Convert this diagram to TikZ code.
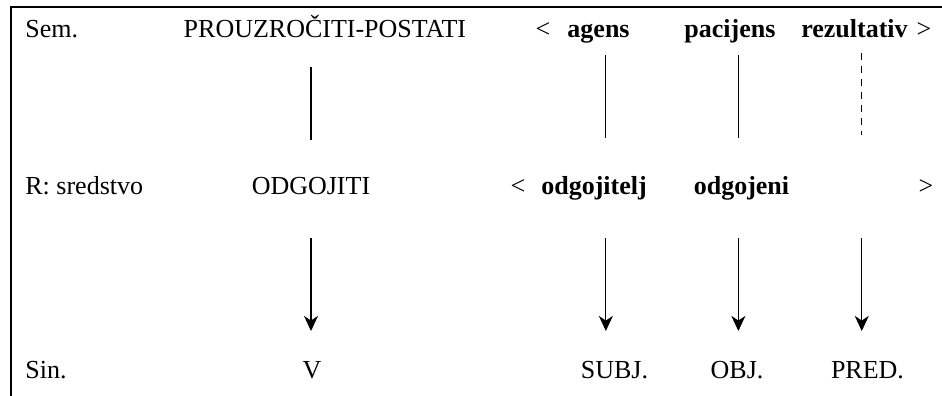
\documentclass[tikz,border=0pt]{standalone}
\usepackage{fontspec}
\setmainfont{Liberation Serif}
\usetikzlibrary{arrows.meta}

\begin{document}
\begin{tikzpicture}[>={Stealth[length=7pt,width=6.5pt,inset=2.2pt]},
  every node/.style={inner sep=0pt,anchor=base,font=\fontsize{12}{14}\selectfont},
  lbl/.style={anchor=base west},
  role/.style={font=\fontsize{12}{14}\selectfont\bfseries},
  link/.style={line width=0.5pt,shorten <=8.3pt,shorten >=25.8pt},
  map/.style={->,line width=0.5pt,shorten <=20.3pt,shorten >=21.7pt}]
\useasboundingbox (0,0) rectangle (15.284,6.425);
\draw[line width=1.1pt] (0.178,0) -- (0.178,6.311) -- (15.284,6.311);

\coordinate (c1) at (5.046,0);
\coordinate (c2) at (9.830,0);
\coordinate (c3) at (11.980,0);
\coordinate (c4) at (13.982,0);

\node[lbl] (sem) at (0.405,5.823) {Sem.};
\node (prouz) at (5.272,5.823) {PROUZROČITI-POSTATI};
\node (lt1) at (8.810,5.823) {<};
\node[role] (agens) at (9.711,5.823) {agens};
\node[role] (pacijens) at (11.844,5.823) {pacijens};
\node[role] (rezultativ) at (13.864,5.823) {rezultativ};
\node (gt1) at (14.992,5.823) {>};

\node[lbl] (r) at (0.405,3.276) {R: sredstvo};
\node (odgoj) at (5.046,3.276) {ODGOJITI};
\node (lt2) at (8.405,3.276) {<};
\node[role] (odgojitelj) at (9.638,3.276) {odgojitelj};
\node[role] (odgojeni) at (12.031,3.276) {odgojeni};
\node (gt2) at (15.024,3.276) {>};

\node[lbl] (sin) at (0.405,0.292) {Sin.};
\node (v) at (5.062,0.292) {V};
\node (subj) at (9.970,0.292) {SUBJ.};
\node (obj) at (11.958,0.292) {OBJ.};
\node (pred) at (14.075,0.292) {PRED.};

\draw[link,shorten <=13.8pt,shorten >=25pt] (prouz.base -| c1) -- (odgoj.base -| c1);
\draw[link] (agens.base -| c2) -- (odgojitelj.base -| c2);
\draw[link] (pacijens.base -| c3) -- (odgojeni.base -| c3);
\draw[link,dashed,shorten <=7.4pt,shorten >=27.2pt] (rezultativ.base -| c4) -- (gt2.base -| c4);

\draw[map] (odgoj.base -| c1) -- (v.base -| c1);
\draw[map] (odgojitelj.base -| c2) -- (subj.base -| c2);
\draw[map] (odgojeni.base -| c3) -- (obj.base -| c3);
\draw[map] (gt2.base -| c4) -- (pred.base -| c4);
\end{tikzpicture}
\end{document}
